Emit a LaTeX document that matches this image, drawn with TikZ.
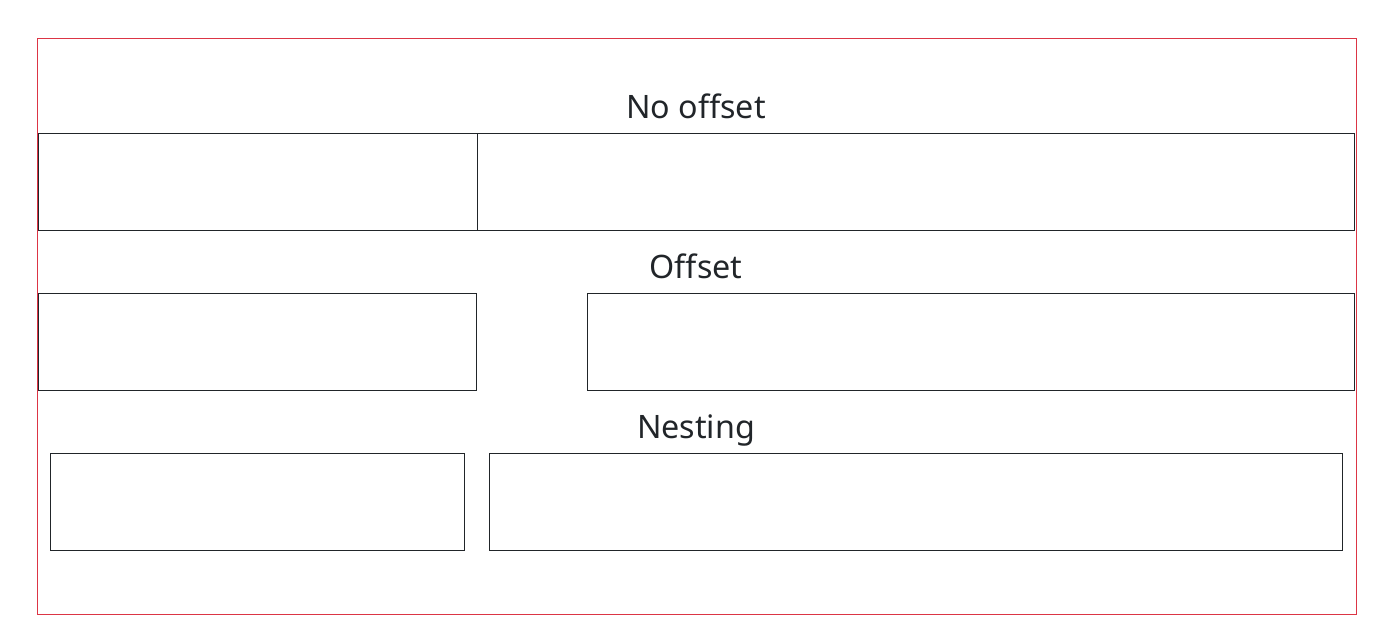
\documentclass[tikz,border=0pt]{standalone}
\usepackage{fontspec}
\setmainfont{Noto Sans}
\definecolor{framered}{HTML}{DC3545}
\definecolor{textgrey}{HTML}{212529}
\begin{document}
\begin{tikzpicture}[x=0.75pt, y=-0.75pt]
\tikzstyle{box}=[draw=textgrey, line width=0.7pt]
\tikzstyle{title}=[anchor=base, text=textgrey, font=\fontsize{24.2pt}{28pt}\selectfont, inner sep=0pt]
\useasboundingbox (0,0) rectangle (1382,641);
\draw[framered, line width=0.7pt] (37.5,38.5) rectangle (1356.5,614.5);

\node[title] (t1) at (696,119) {No offset};
\node[title] (t2) at (696,279) {Offset};
\node[title] (t3) at (696,439) {Nesting};

\draw[box] (38.5,133.5) rectangle (477.5,230.5);
\draw[box] (477.5,133.5) rectangle (1354.5,230.5);

\draw[box] (38.5,293.5) rectangle (476.5,390.5);
\draw[box] (587.5,293.5) rectangle (1354.5,390.5);

\draw[box] (50.5,453.5) rectangle (464.5,550.5);
\draw[box] (489.5,453.5) rectangle (1342.5,550.5);
\end{tikzpicture}
\end{document}
